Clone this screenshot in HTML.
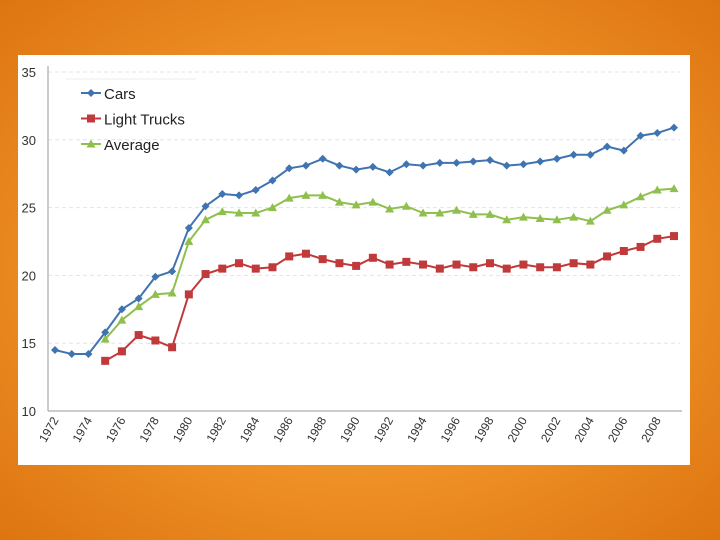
<!DOCTYPE html>
<html><head><meta charset="utf-8"><style>
body{margin:0;width:720px;height:540px;overflow:hidden;background:radial-gradient(ellipse at 50% 50%,#f6a83a 0%,#ee9025 55%,#dd7410 100%);font-family:"Liberation Sans",sans-serif}
#panel{position:absolute;left:18px;top:55px;width:672px;height:410px;background:#fff}
svg{position:absolute;left:0;top:0}
</style></head><body>
<div id="panel"></div>
<svg id="c" width="720" height="540"></svg>
<script>
const years=[];for(let y=1972;y<=2009;y++)years.push(y);
const cars=[14.5,14.2,14.2,15.8,17.5,18.3,19.9,20.3,23.5,25.1,26.0,25.9,26.3,27.0,27.9,28.1,28.6,28.1,27.8,28.0,27.6,28.2,28.1,28.3,28.3,28.4,28.5,28.1,28.2,28.4,28.6,28.9,28.9,29.5,29.2,30.3,30.5,30.9];
const trucks=[null,null,null,13.7,14.4,15.6,15.2,14.7,18.6,20.1,20.5,20.9,20.5,20.6,21.4,21.6,21.2,20.9,20.7,21.3,20.8,21.0,20.8,20.5,20.8,20.6,20.9,20.5,20.8,20.6,20.6,20.9,20.8,21.4,21.8,22.1,22.7,22.9];
const average=[null,null,null,15.3,16.7,17.7,18.6,18.7,22.5,24.1,24.7,24.6,24.6,25.0,25.7,25.9,25.9,25.4,25.2,25.4,24.9,25.1,24.6,24.6,24.8,24.5,24.5,24.1,24.3,24.2,24.1,24.3,24.0,24.8,25.2,25.8,26.3,26.4];
const yTicks=[10,15,20,25,30,35];
const svg=document.getElementById('c');const NS='http://www.w3.org/2000/svg';
function mk(t,a,p){const e=document.createElementNS(NS,t);for(const k in a)e.setAttribute(k,a[k]);(p||svg).appendChild(e);return e;}
const X=y=>55+(y-1972)*16.73;
const Y=v=>411-(v-10)*13.56;
yTicks.forEach(v=>{
 if(v>10){const g=mk('line',{x1:48,x2:680,y1:Y(v),y2:Y(v),stroke:'#e4e4e4','stroke-dasharray':'4,3'});}
 const t=mk('text',{x:36,y:Y(v)+5,'text-anchor':'end','font-size':13,fill:'#333'});t.textContent=v;
 
});
let a=mk('line',{x1:48,x2:48,y1:66,y2:411,stroke:'#999'});
a=mk('line',{x1:48,x2:682,y1:411,y2:411,stroke:'#999'});
years.forEach(y=>{if(y%2==0){const x=X(y);const t=mk('text',{x:x+4,y:420,'text-anchor':'end','font-size':12,fill:'#333',transform:`rotate(-60 ${x+4} 420)`});t.textContent=y;
 }});
function marker(kind,x,y,c,p){
 if(kind=='d')return mk('path',{d:`M${x} ${y-4}L${x+4} ${y}L${x} ${y+4}L${x-4} ${y}Z`,fill:c},p);
 if(kind=='s')return mk('rect',{x:x-4,y:y-4,width:8,height:8,fill:c},p);
 return mk('path',{d:`M${x} ${y-4.5}L${x+4.5} ${y+3.5}L${x-4.5} ${y+3.5}Z`,fill:c},p);
}
function series(data,c,kind,name){
 const g=mk('g',{});
 let d='';data.forEach((v,i)=>{if(v==null)return;d+=(d?'L':'M')+X(years[i])+' '+Y(v);});
 mk('path',{d:d,fill:'none',stroke:c,'stroke-width':2},g);
 data.forEach((v,i)=>{if(v==null)return;const m=marker(kind,X(years[i]),Y(v),c,g);});
}
series(trucks,'#c0393b','s','light-trucks');
series(average,'#8fbf4d','t','average');
series(cars,'#3f74b0','d','cars');
const leg=[['Cars','#3f74b0','d'],['Light Trucks','#c0393b','s'],['Average','#8fbf4d','t']];
mk('line',{x1:66,x2:196,y1:79,y2:79,stroke:'#eee'});
leg.forEach((l,i)=>{const y=93+i*25.5;const g=mk('g',{});
 mk('line',{x1:81,x2:101,y1:y,y2:y,stroke:l[1],'stroke-width':2},g);marker(l[2],91,y,l[1],g);
 const t=mk('text',{x:104,y:y+6,'font-size':15,fill:'#222'},g);t.textContent=l[0];});
</script>
</body></html>
